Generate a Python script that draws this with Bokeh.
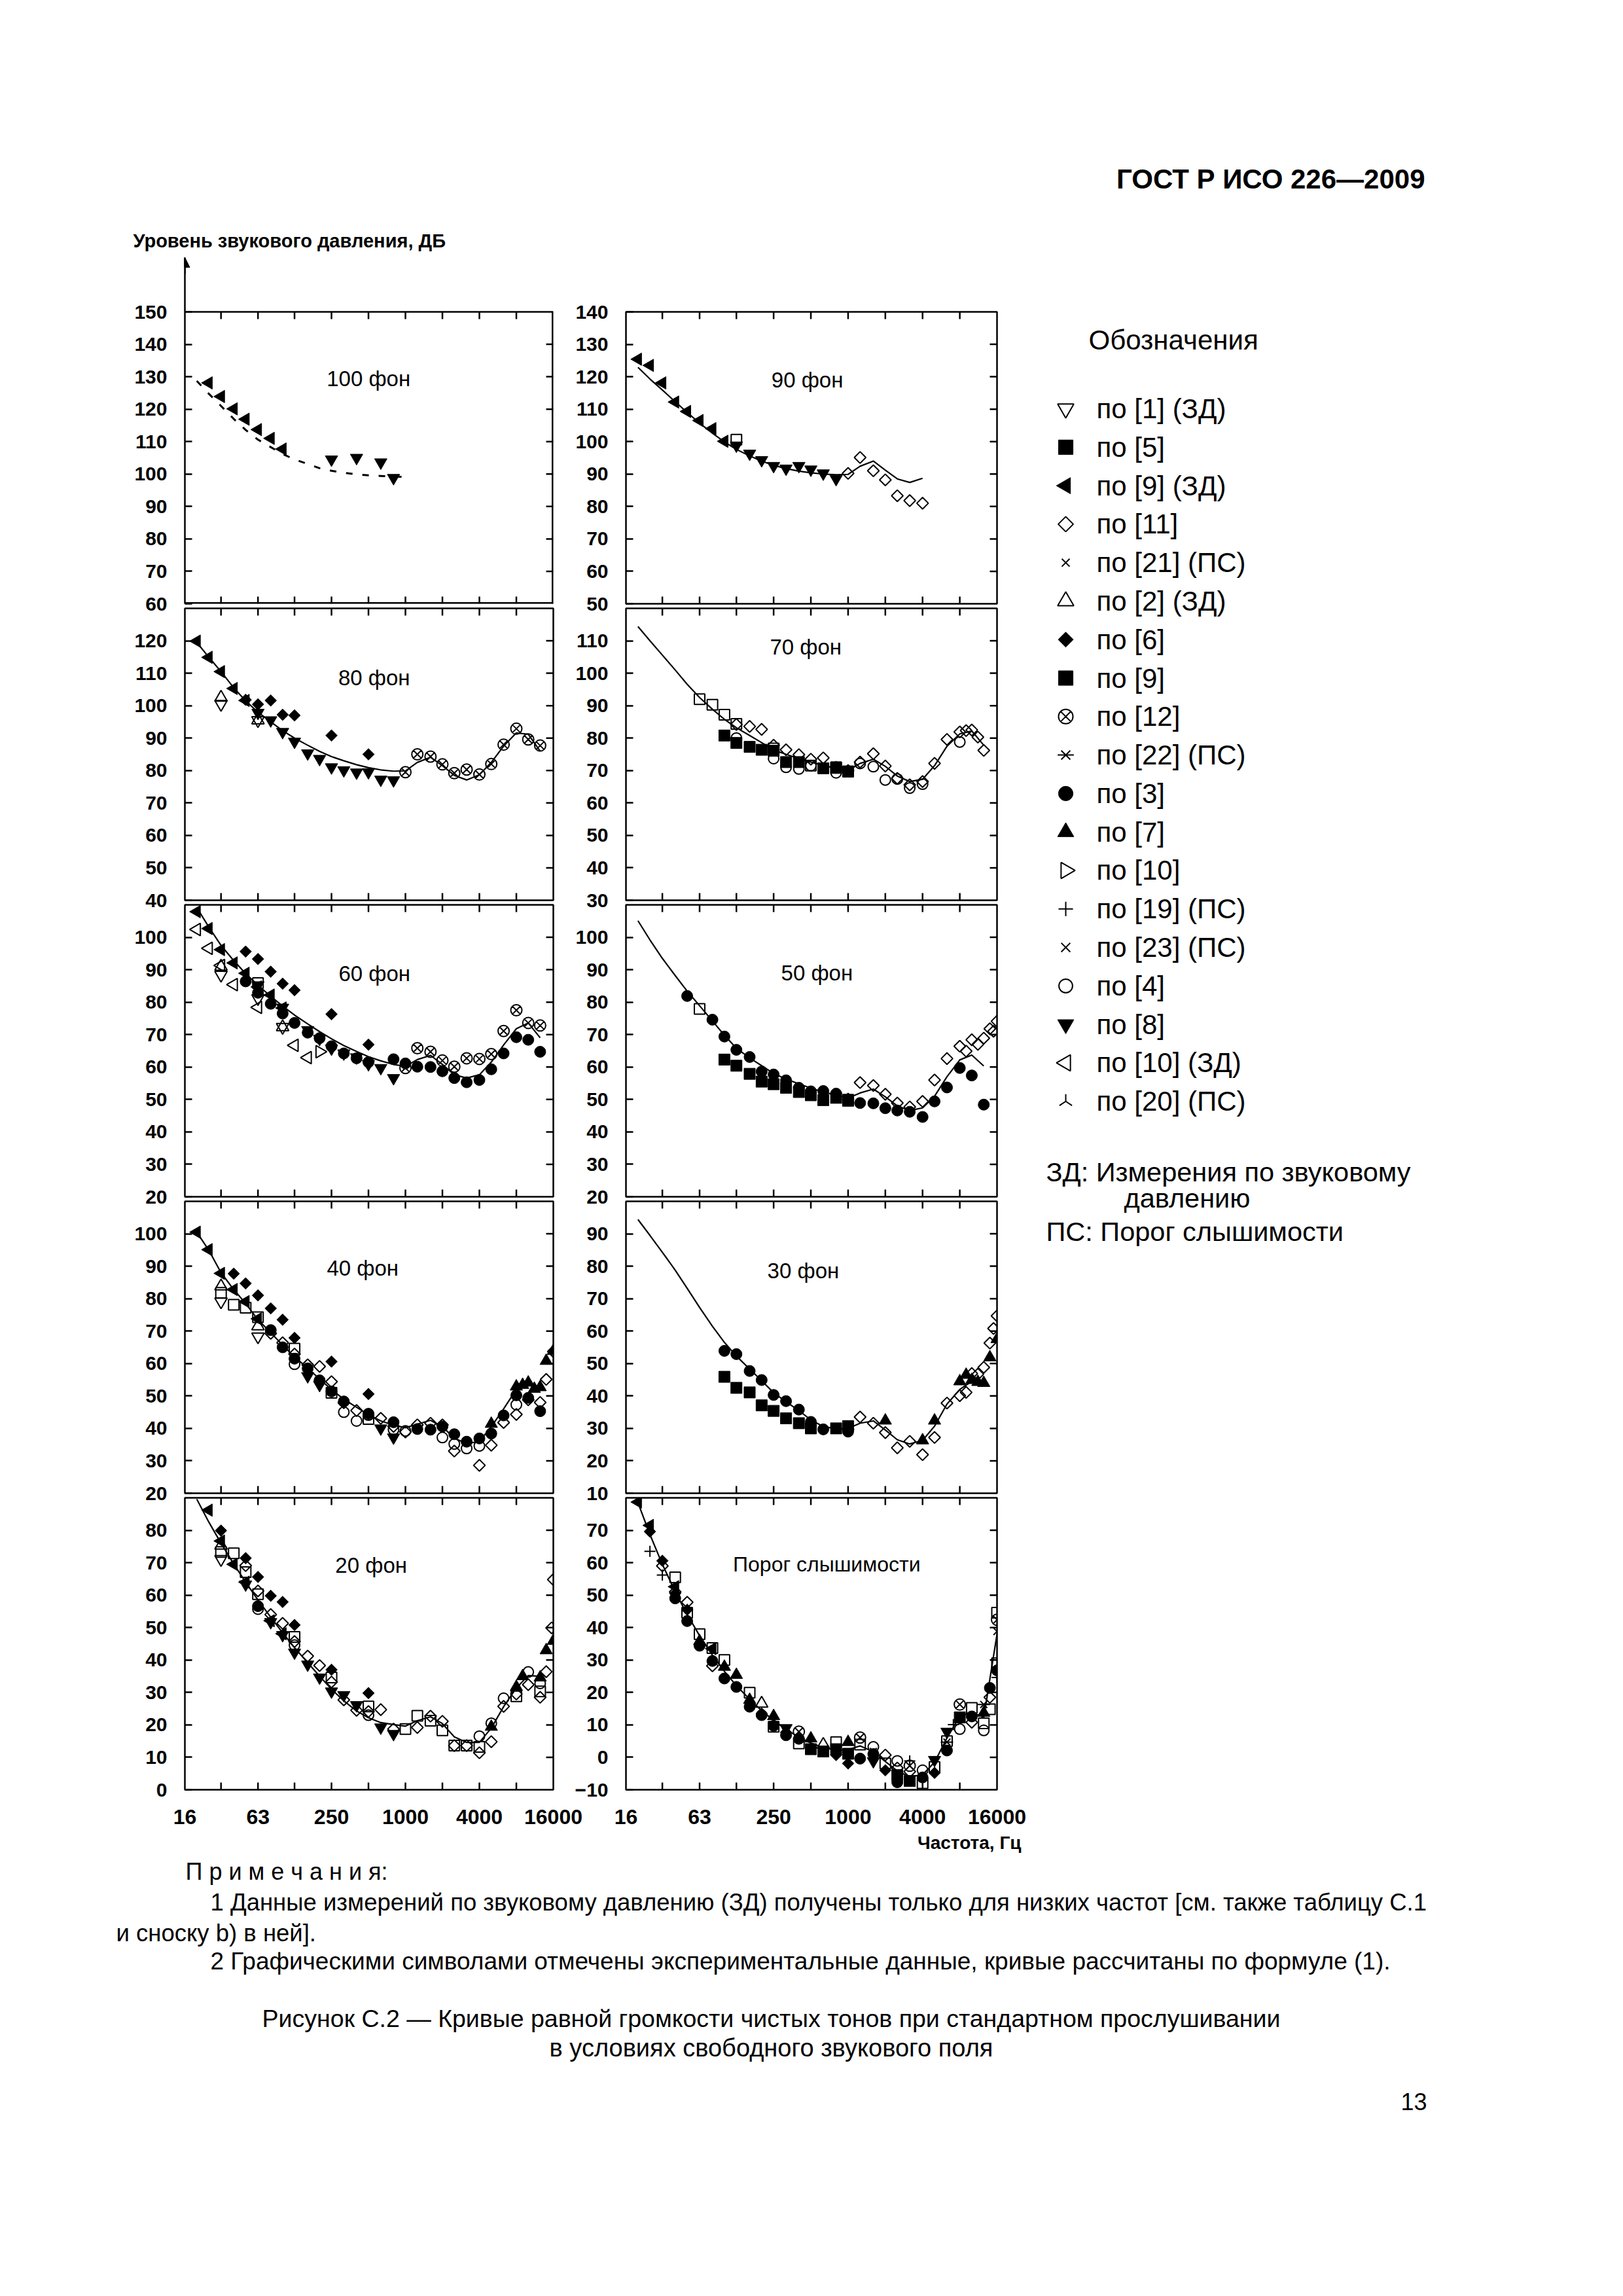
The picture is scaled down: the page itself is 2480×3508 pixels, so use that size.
import math
from bokeh.plotting import figure
from bokeh.layouts import row, column
from bokeh.models import Range1d, FixedTicker, Arrow, NormalHead, LogScale
from bokeh.core.properties import value
from bokeh.embed import file_html
from bokeh.resources import INLINE

FONT = "Liberation Sans"

# ---------------- data ----------------
FREQ = [20, 25, 31.5, 40, 50, 63, 80, 100, 125, 160, 200, 250, 315, 400, 500, 630,
        800, 1000, 1250, 1600, 2000, 2500, 3150, 4000, 5000, 6300, 8000, 10000, 12500, 16000]
X_TICKS = [31.5, 63, 125, 250, 500, 1000, 2000, 4000, 8000]
X_LABEL_F = [16, 63, 250, 1000, 4000, 16000]
X_LABELS = ["16", "63", "250", "1000", "4000", "16000"]

# calculated curves (values read at 1/3-octave frequencies)
C100 = [128.7, 124.8, 121.0, 117.0, 113.6, 110.6, 108.3, 106.2, 104.5, 103.1, 101.8, 101.0,
        100.4, 99.9, 99.6, 99.4, 99.2, 99.1]
C90 = [122.9, 119.3, 115.9, 112.3, 109.0, 105.7, 102.6, 99.9, 97.6, 95.6, 94.0, 92.7, 91.7,
       90.9, 90.4, 90.0, 89.8, 89.9, 92.4, 94.0, 91.2, 88.5, 87.4, 88.7]
C80 = [119.5, 115.0, 110.5, 105.5, 101.5, 98.0, 95.0, 92.3, 90.0, 87.8, 85.9, 84.3, 83.0,
       81.8, 80.9, 80.2, 79.8, 79.9, 82.5, 84.1, 81.5, 78.5, 77.1, 78.7, 82.5, 87.5, 91.6,
       91.2, 86.0]
C70 = [114.4, 110.0, 105.6, 101.0, 96.6, 92.5, 88.9, 85.8, 83.2, 80.8, 78.6, 76.3, 75.0,
       73.7, 72.6, 71.6, 70.7, 70.0, 72.2, 73.5, 71.3, 68.3, 66.6, 67.3, 71.5, 77.5, 81.3,
       82.2, 77.8]
C60 = [109.2, 103.2, 97.5, 92.8, 88.8, 85.2, 81.8, 78.8, 76.0, 73.3, 70.9, 68.7, 66.6, 64.8,
       63.2, 61.9, 60.8, 60.2, 62.3, 63.6, 60.8, 57.6, 56.6, 57.6, 61.5, 66.8, 71.8, 73.6, 69.0]
C50 = [105.1, 99.2, 93.5, 88.2, 83.4, 78.9, 74.2, 69.8, 65.8, 62.8, 60.4, 58.0, 56.3, 54.8,
       53.5, 52.3, 51.3, 50.4, 52.0, 53.2, 50.8, 48.0, 46.6, 47.4, 51.0, 57.0, 62.2, 63.7, 60.3]
C40 = [100.5, 95.0, 88.0, 82.8, 78.5, 73.5, 69.5, 65.7, 62.0, 58.6, 55.2, 52.0, 49.0, 46.5,
       44.2, 42.3, 41.0, 40.2, 41.3, 42.5, 40.5, 37.0, 35.3, 36.0, 40.5, 46.0, 52.0, 53.5, 52.2]
C30 = [94.4, 89.5, 84.3, 78.8, 73.2, 67.3, 61.5, 56.5, 52.3, 48.3, 44.7, 41.0, 38.2, 35.5,
       32.6, 30.6, 29.8, 30.0, 31.6, 32.3, 29.5, 26.5, 25.2, 26.3, 30.7, 37.5, 42.0, 44.5, 43.6]
C20 = [89.6, 82.6, 76.0, 69.6, 64.0, 58.5, 53.2, 48.4, 43.8, 39.2, 35.0, 31.0, 27.4, 24.3,
       22.2, 20.7, 20.1, 19.6, 21.3, 22.5, 20.4, 16.3, 14.6, 14.6, 19.0, 25.6, 31.4, 35.2, 35.0]
CT = [78.5, 68.7, 59.5, 51.1, 44.0, 37.5, 31.5, 26.5, 22.1, 17.9, 14.4, 11.4, 8.6, 6.2, 4.4,
      3.0, 2.2, 2.4, 3.5, 1.7, -1.3, -4.2, -6.0, -5.4, -1.5, 6.0, 12.6, 13.9, 12.3, 38.0]

# experimental points (frequency, level)
P100_TRI_LEFT_FILL = [(25, 128.1), (31.5, 123.9), (40, 120.1), (50, 116.9), (63, 113.7), (80, 111.0), (100, 107.7)]
P100_TRI_DOWN_FILL = [(250, 104.5), (400, 105.0), (630, 103.6), (800, 98.8)]

P90_TRI_LEFT_FILL = [(20, 125.4), (25, 123.5), (31.5, 118.1), (40, 112.2), (50, 109.3), (63, 106.5), (80, 104.0), (100, 100.1)]
P90_SQ_OPEN = [(125, 100.6)]
P90_TRI_DOWN_FILL = [(125, 98.8), (160, 96.3), (200, 94.3), (250, 92.5), (315, 91.7), (400, 92.5), (500, 91.4), (630, 90.2), (800, 88.5)]
P90_DIAM_OPEN = [(1000, 90.2), (1250, 95.1), (1600, 91.0), (2000, 88.2), (2500, 83.3), (3150, 81.8), (4000, 81.0)]

P80_TRI_LEFT_FILL = [(20, 119.9), (25, 114.9), (31.5, 110.5), (40, 105.3), (50, 101.6)]
P80_TRI_UP_OPEN = [(31.5, 102.5), (63, 95.5)]
P80_TRI_DOWN_OPEN = [(31.5, 100.5), (63, 95.5)]
P80_DIAM_FILL = [(50, 101.8), (63, 100.4), (80, 101.6), (100, 97.2), (125, 97.0), (250, 90.8), (500, 85.0)]
P80_TRI_DOWN_FILL = [(63, 97.8), (80, 95.5), (100, 91.9), (125, 88.9), (160, 85.3), (200, 83.6), (250, 81.0),
                     (315, 80.1), (400, 79.4), (500, 79.5), (630, 77.2), (800, 77.0)]
P80_CIRC_X = [(1000, 79.5), (1250, 85.0), (1600, 84.3), (2000, 81.9), (2500, 79.2), (3150, 80.3), (4000, 78.8),
              (5000, 82.0), (6300, 88.0), (8000, 92.9), (10000, 89.6), (12500, 87.7)]

P70_SQ_OPEN = [(63, 92.0), (80, 90.3), (100, 87.2), (125, 84.4), (250, 76.8), (500, 71.5), (800, 71.0), (1000, 69.7)]
P70_DIAM_OPEN = [(125, 84.2), (160, 83.6), (200, 82.7), (250, 77.8), (315, 76.4), (400, 74.9), (500, 73.5), (630, 73.9),
                 (800, 71.0), (1000, 70.0), (1250, 72.6), (1600, 75.2), (2000, 71.4), (2500, 67.6), (3150, 65.6),
                 (4000, 66.6), (5000, 72.2), (6300, 79.6), (8000, 81.9), (9000, 82.3), (10000, 82.5), (11200, 80.3),
                 (12500, 76.2)]
P70_SQ_FILL = [(100, 80.8), (125, 78.5), (160, 77.3), (200, 76.4), (250, 76.1), (315, 72.6), (400, 72.6), (630, 70.7),
               (800, 70.8), (1000, 69.7)]
P70_CIRC_OPEN = [(125, 80.0), (250, 73.7), (315, 71.0), (400, 70.5), (500, 71.5), (800, 69.3), (1250, 72.2), (1600, 71.2),
                 (2000, 67.1), (2500, 67.4), (3150, 64.6), (4000, 65.8), (8000, 78.8)]

P60_TRI_LEFT_FILL = [(20, 107.9), (25, 102.7), (31.5, 96.2), (40, 92.1), (50, 88.9), (63, 84.7), (80, 82.2), (100, 78.2)]
P60_TRI_LEFT_OPEN = [(20, 102.4), (25, 96.6), (31.5, 91.3), (40, 85.4), (63, 78.4), (125, 66.7), (160, 62.9)]
P60_TRI_RIGHT_OPEN = [(200, 64.7)]
P60_TRI_DOWN_OPEN = [(31.5, 88.4), (63, 81.2), (100, 72.3)]
P60_TRI_UP_OPEN = [(31.5, 91.0), (100, 72.3)]
P60_SQ_OPEN = [(63, 85.9)]
P60_DIAM_FILL = [(50, 95.6), (63, 93.3), (80, 89.4), (100, 85.7), (125, 83.7), (250, 76.3), (500, 66.9)]
P60_CIRC_FILL = [(50, 86.4), (63, 82.9), (80, 79.5), (100, 76.5), (125, 73.6), (160, 70.6), (200, 68.9), (250, 66.4),
                 (315, 64.2), (400, 62.7), (500, 61.5), (800, 62.4), (1000, 61.1), (1250, 60.1), (1600, 60.0),
                 (2000, 58.7), (2500, 56.6), (3150, 55.3), (4000, 56.0), (5000, 59.3), (6300, 64.2), (8000, 69.2),
                 (10000, 68.4), (12500, 64.7)]
P60_TRI_DOWN_FILL = [(63, 85.2), (100, 78.3), (160, 71.4), (200, 68.7), (250, 65.7), (315, 64.2), (400, 63.0),
                     (500, 60.9), (630, 59.7), (800, 56.6)]
P60_CIRC_X = [(1000, 59.7), (1250, 65.8), (1600, 64.7), (2000, 62.0), (2500, 60.1), (3150, 62.7), (4000, 62.5),
              (5000, 64.0), (6300, 71.1), (8000, 77.5), (10000, 73.6), (12500, 72.8)]

P50_CIRC_FILL = [(50, 81.9), (80, 74.6), (100, 69.4), (125, 65.3), (160, 63.1), (200, 58.6), (250, 57.7), (315, 55.9),
                 (400, 53.6), (500, 52.5), (630, 52.6), (800, 51.8), (1250, 48.9), (1600, 48.8), (2000, 47.3),
                 (2500, 46.6), (3150, 46.2), (4000, 44.6), (5000, 49.4), (6300, 53.7), (8000, 59.7), (10000, 57.4),
                 (12500, 48.4)]
P50_SQ_OPEN = [(63, 77.9), (1000, 49.9)]
P50_SQ_FILL = [(100, 62.3), (125, 60.4), (160, 57.9), (200, 55.5), (250, 54.7), (315, 53.6), (400, 52.3), (500, 51.3),
               (630, 49.8), (800, 50.5), (1000, 49.6)]
P50_DIAM_OPEN = [(1000, 50.1), (1250, 55.2), (1600, 54.3), (2000, 51.6), (2500, 48.9), (3150, 47.7), (4000, 49.4),
                 (5000, 56.0), (6300, 62.6), (8000, 66.4), (9000, 64.9), (10000, 68.4), (11200, 67.0), (12500, 68.9),
                 (14000, 71.8), (15000, 71.0), (16000, 74.1)]

P40_TRI_LEFT_FILL = [(20, 100.5), (25, 95.1), (31.5, 87.8), (40, 82.8), (50, 79.1), (63, 73.8)]
P40_TRI_UP_OPEN = [(31.5, 83.8), (63, 71.5)]
P40_TRI_DOWN_OPEN = [(31.5, 79.1), (63, 68.3)]
P40_SQ_OPEN = [(31.5, 81.8), (40, 78.1), (50, 77.2), (63, 74.3), (125, 64.6), (250, 51.0), (500, 42.9)]
P40_DIAM_FILL = [(40, 87.7), (50, 84.7), (63, 81.0), (80, 77.0), (100, 73.5), (125, 67.9), (250, 60.6), (500, 50.6)]
P40_CIRC_FILL = [(80, 70.3), (100, 65.0), (125, 61.5), (160, 58.5), (200, 54.8), (250, 51.4), (315, 48.3), (500, 44.5),
                 (800, 41.9), (1250, 39.8), (1600, 39.6), (2000, 40.6), (2500, 38.2), (3150, 35.9), (4000, 36.9),
                 (5000, 38.4), (6300, 44.0), (8000, 50.2), (10000, 49.4), (12500, 45.3)]
P40_TRI_DOWN_FILL = [(160, 56.1), (200, 53.4), (630, 40.0), (800, 37.2)]
P40_DIAM_OPEN = [(80, 69.3), (100, 66.4), (125, 62.9), (160, 59.6), (200, 59.1), (250, 54.4), (315, 47.9), (400, 45.5),
                 (630, 43.1), (800, 40.6), (1000, 38.9), (1250, 41.1), (1600, 41.6), (2000, 41.1), (2500, 33.0),
                 (4000, 28.6), (5000, 34.8), (6300, 41.8), (8000, 44.3), (10000, 48.8), (12500, 48.0), (14000, 55.1),
                 (16000, 63.7)]
P40_CIRC_OPEN = [(125, 59.8), (315, 45.0), (400, 42.3), (500, 44.1), (800, 39.6), (1000, 39.2), (2000, 37.2),
                 (2500, 35.2), (3150, 33.8), (4000, 34.6), (8000, 47.3)]
P40_TRI_UP_FILL = [(5000, 41.4), (8000, 52.9), (9000, 53.4), (10000, 54.1), (11200, 52.2), (12500, 52.7),
                   (14000, 60.8), (16000, 63.9)]

P30_CIRC_FILL = [(100, 53.9), (125, 52.9), (160, 47.7), (200, 44.9), (250, 40.3), (315, 38.4), (400, 35.8), (500, 32.0),
                 (630, 29.7), (1000, 29.0)]
P30_SQ_FILL = [(100, 45.9), (125, 42.5), (160, 41.1), (200, 37.1), (250, 35.4), (315, 33.1), (400, 31.6), (500, 30.0),
               (800, 30.0), (1000, 30.7)]
P30_DIAM_OPEN = [(1000, 29.7), (1250, 33.5), (1600, 31.6), (2000, 28.7), (2500, 24.0), (3150, 26.0), (4000, 21.9),
                 (5000, 27.2), (6300, 37.8), (8000, 40.1), (9000, 41.1), (10000, 46.9), (11200, 46.7), (12500, 48.8),
                 (14000, 56.3), (15000, 60.8), (16000, 64.7)]
P30_TRI_UP_FILL = [(2000, 32.4), (4000, 26.3), (5000, 32.4), (8000, 44.5), (9000, 46.5), (10000, 44.9), (11200, 44.3),
                   (12500, 44.0), (14000, 51.9), (16000, 57.5)]

P20_TRI_LEFT_FILL = [(25, 86.2), (31.5, 76.7), (40, 69.5), (50, 64.0), (80, 52.1), (100, 48.1)]
P20_DIAM_FILL = [(31.5, 79.9), (50, 71.4), (63, 65.6), (80, 59.8), (100, 57.9), (125, 50.8), (250, 37.0), (500, 29.8)]
P20_TRI_DOWN_FILL = [(50, 63.3), (80, 51.7), (100, 47.7), (125, 42.3), (160, 38.6), (200, 34.6), (250, 30.3),
                     (315, 29.2), (400, 26.1), (630, 19.2), (800, 17.2)]
P20_SQ_OPEN = [(31.5, 73.3), (40, 72.9), (50, 67.1), (63, 60.3), (125, 47.1), (250, 34.6), (500, 25.7), (1000, 18.7),
               (1250, 22.8), (1600, 21.3), (2000, 18.3), (2500, 13.6), (3150, 13.6), (4000, 13.2), (8000, 28.8),
               (12500, 30.3)]
P20_TRI_UP_OPEN = [(31.5, 75.3)]
P20_TRI_DOWN_OPEN = [(31.5, 71.1)]
P20_CIRC_OPEN = [(63, 55.7), (125, 44.6), (500, 23.0), (4000, 16.5), (5000, 20.5), (6300, 28.2), (10000, 36.3),
                 (12500, 32.8)]
P20_DIAM_OPEN = [(50, 69.1), (63, 61.3), (80, 54.0), (100, 51.3), (125, 45.7), (160, 41.2), (200, 38.3), (250, 33.2),
                 (315, 27.7), (400, 24.5), (500, 24.1), (630, 24.7), (800, 18.7), (1250, 19.2), (1600, 22.7),
                 (2000, 21.1), (2500, 13.6), (3150, 13.6), (4000, 11.4), (5000, 14.8), (6300, 25.7), (8000, 29.5),
                 (10000, 32.4), (12500, 28.5), (14000, 36.4), (15500, 49.9), (16000, 64.8)]
P20_TRI_UP_FILL = [(5000, 19.4), (8000, 31.7), (9000, 35.0), (12500, 34.6), (14000, 43.0), (16000, 45.9)]
P20_CIRC_FILL = [(63, 56.6)]

PT_TRI_LEFT_FILL = [(20, 78.7), (25, 71.5), (40, 52.6), (80, 33.5)]
PT_DIAM_FILL = [(25, 69.6), (31.5, 60.6), (40, 50.5), (50, 45.5), (200, 13.5), (315, 7.7), (800, 0.7), (1000, -1.9),
                (2000, -4.0), (5000, -4.8)]
PT_CROSS = [(25, 63.5), (31.5, 56.2), (3150, -1.1), (7100, 10.1), (16000, 24.6)]
PT_SQ_OPEN = [(40, 55.5), (50, 44.6), (63, 38.0), (80, 33.7), (100, 30.0), (160, 19.9), (250, 9.4), (400, 4.3),
              (800, 4.7), (1250, 3.9), (2000, -1.9), (4000, -8.0), (5000, -3.0), (6300, 5.0), (10000, 15.2),
              (12500, 10.5), (14000, 14.8), (16000, 44.6), (16000, 29.0)]
PT_CIRC_FILL = [(40, 49.0), (50, 42.0), (63, 34.4), (80, 29.7), (100, 24.3), (125, 21.7), (160, 15.6), (200, 13.0),
                (250, 9.7), (315, 6.8), (400, 5.7), (1250, -0.4), (1600, 1.0), (2500, -7.7), (4000, -6.2), (6300, 2.1),
                (10000, 12.6), (14000, 21.4), (16000, 26.8)]
PT_DIAM_OPEN = [(31.5, 59.0), (40, 51.0), (50, 47.8), (80, 28.2), (2000, 0.7), (2500, -3.3), (3150, -4.4),
                (10000, 10.8), (14000, 18.5)]
PT_TRI_UP_FILL = [(63, 35.8), (100, 27.9), (125, 25.4), (160, 17.7), (250, 12.7), (500, 5.8), (1000, 4.7), (12500, 13.7)]
PT_TRI_UP_OPEN = [(200, 16.6), (630, 3.9)]
PT_CIRC_X = [(400, 7.9), (1250, 6.1), (3150, -2.6), (8000, 16.3), (16000, 42.4)]
PT_SQ_FILL = [(500, 2.5), (630, 1.8), (800, 2.5), (1000, 1.1), (2500, -5.5), (3150, -7.3), (8000, 12.3)]
PT_TRI_DOWN_FILL = [(315, 9.0), (1600, -1.2), (5000, -0.8), (6300, 7.9)]
PT_CIRC_OPEN = [(1600, 3.2), (2500, -1.1), (4000, -4.0), (8000, 8.7), (12500, 8.3)]
PT_X23 = [(1600, 1.8), (16000, 38.8)]
PT_AST = [(6300, 4.7), (12500, 16.3)]

PANEL_NAMES = ["100 фон", "90 фон", "80 фон", "70 фон", "60 фон", "50 фон", "40 фон", "30 фон",
               "20 фон", "Порог слышимости"]

LEG_LABELS = ["по [1] (ЗД)", "по [5]", "по [9] (ЗД)", "по [11]", "по [21] (ПС)", "по [2] (ЗД)", "по [6]",
              "по [9]", "по [12]", "по [22] (ПС)", "по [3]", "по [7]", "по [10]", "по [19] (ПС)",
              "по [23] (ПС)", "по [4]", "по [8]", "по [10] (ЗД)", "по [20] (ПС)"]
LEG_KEYS = ["tri_down_open", "sq_fill", "tri_left_fill", "diam_open", "x21", "tri_up_open", "diam_fill",
            "sq_fill", "circ_x", "ast", "circ_fill", "tri_up_fill", "tri_right_open", "cross", "x23",
            "circ_open", "tri_down_fill", "tri_left_open", "y20"]

# ---------------- styles ----------------
PI = math.pi
STYLE = {
    "tri_down_open": [("inverted_triangle", 0, False, 19, 2)],
    "sq_open": [("square", 0, False, 16, 2)],
    "tri_left_fill": [("triangle", PI / 2, True, 19, 1)],
    "diam_open": [("square", PI / 4, False, 12.5, 2)],
    "x21": [("x", 0, False, 13, 2)],
    "tri_up_open": [("triangle", 0, False, 19, 2)],
    "diam_fill": [("square", PI / 4, True, 12.5, 1)],
    "sq_fill": [("square", 0, True, 17, 1)],
    "circ_x": [("circle_x", 0, False, 17, 2)],
    "ast": [("x", 0, False, 15, 2), ("dash", 0, False, 19, 2)],
    "circ_fill": [("circle", 0, True, 17, 1)],
    "tri_up_fill": [("triangle", 0, True, 19, 1)],
    "tri_right_open": [("triangle", -PI / 2, False, 19, 2)],
    "cross": [("cross", 0, False, 17, 2)],
    "x23": [("x", 0, False, 15, 2)],
    "circ_open": [("circle", 0, False, 16, 2)],
    "tri_down_fill": [("inverted_triangle", 0, True, 19, 1)],
    "tri_left_open": [("triangle", PI / 2, False, 19, 2)],
    "y20": [("y", PI, False, 17, 2)],
}

PANELS = [
    dict(name=PANEL_NAMES[0], yr=(60, 150), curve=C100, dash=True, lab=(501, 129.4),
         series=[("tri_left_fill", P100_TRI_LEFT_FILL), ("tri_down_fill", P100_TRI_DOWN_FILL)]),
    dict(name=PANEL_NAMES[1], yr=(50, 140), curve=C90, lab=(468, 119.0),
         series=[("tri_left_fill", P90_TRI_LEFT_FILL), ("sq_open", P90_SQ_OPEN),
                 ("tri_down_fill", P90_TRI_DOWN_FILL), ("diam_open", P90_DIAM_OPEN)]),
    dict(name=PANEL_NAMES[2], yr=(40, 130), curve=C80, lab=(556, 108.7),
         series=[("tri_left_fill", P80_TRI_LEFT_FILL), ("tri_up_open", P80_TRI_UP_OPEN),
                 ("tri_down_open", P80_TRI_DOWN_OPEN), ("diam_fill", P80_DIAM_FILL),
                 ("tri_down_fill", P80_TRI_DOWN_FILL), ("circ_x", P80_CIRC_X)]),
    dict(name=PANEL_NAMES[3], yr=(30, 120), curve=C70, lab=(455, 108.0),
         series=[("sq_open", P70_SQ_OPEN), ("diam_open", P70_DIAM_OPEN), ("sq_fill", P70_SQ_FILL),
                 ("circ_open", P70_CIRC_OPEN)]),
    dict(name=PANEL_NAMES[4], yr=(20, 110), curve=C60, lab=(560, 88.8),
         series=[("tri_left_fill", P60_TRI_LEFT_FILL), ("tri_left_open", P60_TRI_LEFT_OPEN),
                 ("tri_right_open", P60_TRI_RIGHT_OPEN), ("tri_down_open", P60_TRI_DOWN_OPEN),
                 ("tri_up_open", P60_TRI_UP_OPEN), ("sq_open", P60_SQ_OPEN), ("diam_fill", P60_DIAM_FILL),
                 ("circ_fill", P60_CIRC_FILL), ("tri_down_fill", P60_TRI_DOWN_FILL), ("circ_x", P60_CIRC_X)]),
    dict(name=PANEL_NAMES[5], yr=(20, 110), curve=C50, lab=(560, 89.0),
         series=[("circ_fill", P50_CIRC_FILL), ("sq_open", P50_SQ_OPEN), ("sq_fill", P50_SQ_FILL),
                 ("diam_open", P50_DIAM_OPEN)]),
    dict(name=PANEL_NAMES[6], yr=(20, 110), curve=C40, lab=(449, 89.4),
         series=[("tri_left_fill", P40_TRI_LEFT_FILL), ("tri_up_open", P40_TRI_UP_OPEN),
                 ("tri_down_open", P40_TRI_DOWN_OPEN), ("sq_open", P40_SQ_OPEN), ("diam_fill", P40_DIAM_FILL),
                 ("circ_fill", P40_CIRC_FILL), ("tri_down_fill", P40_TRI_DOWN_FILL),
                 ("diam_open", P40_DIAM_OPEN), ("circ_open", P40_CIRC_OPEN), ("tri_up_fill", P40_TRI_UP_FILL)]),
    dict(name=PANEL_NAMES[7], yr=(10, 100), curve=C30, lab=(434, 78.7),
         series=[("circ_fill", P30_CIRC_FILL), ("sq_fill", P30_SQ_FILL), ("diam_open", P30_DIAM_OPEN),
                 ("tri_up_fill", P30_TRI_UP_FILL)]),
    dict(name=PANEL_NAMES[8], yr=(0, 90), curve=C20, lab=(526, 69.3),
         series=[("tri_left_fill", P20_TRI_LEFT_FILL), ("diam_fill", P20_DIAM_FILL),
                 ("tri_down_fill", P20_TRI_DOWN_FILL), ("sq_open", P20_SQ_OPEN), ("tri_up_open", P20_TRI_UP_OPEN),
                 ("tri_down_open", P20_TRI_DOWN_OPEN), ("circ_open", P20_CIRC_OPEN), ("diam_open", P20_DIAM_OPEN),
                 ("tri_up_fill", P20_TRI_UP_FILL), ("circ_fill", P20_CIRC_FILL)]),
    dict(name=PANEL_NAMES[9], yr=(-10, 80), curve=CT, lab=(672, 59.6), small=True,
         series=[("tri_left_fill", PT_TRI_LEFT_FILL), ("diam_fill", PT_DIAM_FILL), ("cross", PT_CROSS),
                 ("sq_open", PT_SQ_OPEN), ("circ_fill", PT_CIRC_FILL), ("diam_open", PT_DIAM_OPEN),
                 ("tri_up_fill", PT_TRI_UP_FILL), ("tri_up_open", PT_TRI_UP_OPEN), ("circ_x", PT_CIRC_X),
                 ("sq_fill", PT_SQ_FILL), ("tri_down_fill", PT_TRI_DOWN_FILL), ("circ_open", PT_CIRC_OPEN),
                 ("x23", PT_X23), ("ast", PT_AST)]),
]

# ---------------- layout constants (page pixels) ----------------
COLS = [dict(fx=290, fw=563, w=868), dict(fx=964, fw=567, w=684)]   # frame x, frame width, figure width
COL_X0 = [8, 876]
FH = 446          # frame height
GAP = 7           # gap between stacked frames
TICK = 11         # inward tick length
TOP = 398         # page y where the panel block starts
ARROW_TIP = 401   # page y of the axis arrow tip
HEAD_B = ARROW_TIP - TOP
ARROW_PX = 484 - ARROW_TIP
BORD = 20         # top / bottom canvas border of stacked panels
OVER = 2 * BORD - GAP


def draw_marker(p, xs, ys, key, scale=1.0):
    for mk, ang, filled, sz, lw in STYLE[key]:
        p.scatter(xs, ys, marker=mk, angle=ang, size=sz * scale, line_color="black",
                  line_width=lw, fill_color="black" if filled else None)


def panel(spec, col, r):
    ymin, ymax = spec["yr"]
    c = COLS[col]
    fw = c["fw"]
    arrow = (r == 0 and col == 0)
    if r == 0:
        tb = HEAD_B if arrow else HEAD_B + ARROW_PX
    else:
        tb = BORD
    bb = BORD
    fh = FH + (ARROW_PX if arrow else 0)
    ytop = ymax + ARROW_PX * (ymax - ymin) / FH if arrow else ymax
    mbl = c["fx"] - COL_X0[col]
    mbr = c["w"] - mbl - fw
    kw = dict(width=c["w"], height=tb + fh + bb, x_axis_type="log", x_axis_location=None,
              x_range=Range1d(16, 16000), y_range=Range1d(ymin, ytop),
              output_backend="svg", toolbar_location=None, title=None,
              min_border_left=mbl, min_border_right=mbr, min_border_top=tb, min_border_bottom=bb)
    if r > 0:
        kw["margin"] = (-OVER, 0, 0, 0)
    p = figure(**kw)
    p.ygrid.visible = False
    p.xgrid.visible = False
    p.border_fill_color = None
    p.background_fill_color = None
    if arrow:
        p.outline_line_color = None
    else:
        p.outline_line_color = "black"
        p.outline_line_width = 2.5
        p.outline_line_alpha = 1.0

    yt = list(range(ymin, ymax + 1, 10))
    ax = p.yaxis[0]
    ax.ticker = FixedTicker(ticks=yt if r == 0 else yt[:-1])
    ax.major_tick_in = TICK
    ax.major_tick_out = 0
    ax.major_tick_line_width = 2.5
    ax.major_tick_line_color = "black"
    ax.minor_tick_line_color = None
    ax.major_label_text_font = FONT
    ax.major_label_text_font_size = "30px"
    ax.major_label_text_font_style = "bold"
    ax.major_label_text_color = "black"
    ax.major_label_standoff = 27
    if arrow:
        ax.axis_line_color = "black"
        ax.axis_line_width = 2.5
        ax.bounds = (ymin, ytop)
    else:
        ax.axis_line_color = None

    # inward ticks on the top, bottom and right sides of the box
    dy = TICK * (ymax - ymin) / FH
    xr = 16000 / 10 ** (3.0 * TICK / fw)
    inner = yt[1:-1]
    n = len(X_TICKS)
    p.segment(x0=X_TICKS, x1=X_TICKS, y0=[ymax] * n, y1=[ymax - dy] * n, line_color="black", line_width=2.5)
    p.segment(x0=X_TICKS, x1=X_TICKS, y0=[ymin] * n, y1=[ymin + dy] * n, line_color="black", line_width=2.5)
    p.segment(x0=[16000] * len(inner), x1=[xr] * len(inner), y0=inner, y1=inner, line_color="black", line_width=2.5)
    if arrow:
        p.segment(x0=[16, 16000, 16], x1=[16000, 16000, 16000], y0=[ymax, ymin, ymin], y1=[ymax, ymax, ymin],
                  line_color="black", line_width=[2.5, 5, 5])
        p.add_layout(Arrow(end=NormalHead(size=15, fill_color="black", line_color="black", line_width=1),
                           x_start=16, y_start=ytop - (ytop - ymax) * 0.3, x_end=16, y_end=ytop,
                           line_width=2.5, line_color="black"))

    curve = spec["curve"]
    if spec.get("dash"):
        p.line(FREQ[:len(curve)], curve, line_color="black", line_width=3, line_dash="10 15")
    else:
        p.line(FREQ[:len(curve)], curve, line_color="black", line_width=2.2)
    for key, pts in spec["series"]:
        draw_marker(p, [a for a, b in pts], [b for a, b in pts], key)

    lx, ly = spec["lab"]
    p.text(x=[lx], y=[ly], text=[spec["name"]], text_font=value(FONT),
           text_font_size="32px" if spec.get("small") else "33px",
           text_align="center", text_baseline="middle", text_color="black")
    return p


def text_fig(x0, y0, w, h):
    f = figure(width=w, height=h, x_range=Range1d(x0, x0 + w), y_range=Range1d(y0 + h, y0),
               output_backend="svg", toolbar_location=None, title=None, min_border=0,
               min_border_left=0, min_border_right=0, min_border_top=0, min_border_bottom=0,
               x_axis_location=None, y_axis_location=None)
    f.outline_line_color = None
    f.xgrid.visible = False
    f.ygrid.visible = False
    return f


def put(f, x, y, s, size, align="left", bold=False):
    f.text(x=[x], y=[y], text=[s], text_font=value(FONT), text_font_size=f"{size}px",
           text_align=align, text_baseline="middle", text_color="black",
           text_font_style="bold" if bold else "normal")


ROW1_H = HEAD_B + ARROW_PX + FH + BORD
COL_H = ROW1_H + 4 * (2 * BORD + FH - OVER)
BOTTOM = TOP + COL_H                   # page y where the panel block ends

# header
header = text_fig(8, 8, 2464, TOP - 8)
put(header, 2185, 281, "ГОСТ Р ИСО 226—2009", 42, align="right", bold=True)
put(header, 211, 375, "Уровень звукового давления, ДБ", 29, bold=True)

# panels
left_col = column(*[panel(PANELS[2 * r], 0, r) for r in range(5)])
right_col = column(*[panel(PANELS[2 * r + 1], 1, r) for r in range(5)])

# legend
legend = text_fig(1560, TOP, 912, COL_H)
put(legend, 1671, 527, "Обозначения", 42)
for i, (key, lab) in enumerate(zip(LEG_KEYS, LEG_LABELS)):
    y = 632 + 58.79 * i
    draw_marker(legend, [1636], [y], key, scale=1.3)
    put(legend, 1683, y, lab, 42)
put(legend, 1606, 1798, "ЗД: Измерения по звуковому", 41.5)
put(legend, 1725, 1838, "давлению", 41.5)
put(legend, 1606, 1889, "ПС: Порог слышимости", 41.5)

# x tick labels strip (mapped through the panels' log scales)
SH = 84
strip = text_fig(8, BOTTOM, 2464, SH)


def log_range(px16, fw):
    per_px = 3.0 / fw
    return Range1d(16 * 10 ** (-(px16 - 8) * per_px), 16 * 10 ** ((2472 - px16) * per_px))


strip.extra_x_ranges = {"L": log_range(COLS[0]["fx"], COLS[0]["fw"]), "R": log_range(COLS[1]["fx"], COLS[1]["fw"])}
strip.extra_x_scales = {"L": LogScale(), "R": LogScale()}
for rn in ("L", "R"):
    strip.text(x=X_LABEL_F, y=[BOTTOM + 21] * len(X_LABEL_F), text=X_LABELS, x_range_name=rn,
               text_font=value(FONT), text_font_size="32px", text_font_style="bold",
               text_align="center", text_baseline="middle", text_color="black")
put(strip, 1568, BOTTOM + 61, "Частота, Гц", 28, align="right", bold=True)

# notes
NT = BOTTOM + SH
notes = text_fig(8, NT, 2464, 3300 - NT)
put(notes, 291, 2867, "П р и м е ч а н и я:", 36)
put(notes, 329, 2914, "1  Данные измерений по звуковому давлению (ЗД) получены только для низких частот [см. также таблицу С.1", 36.5)
put(notes, 185, 2961, "и сноску b) в ней].", 36.5)
put(notes, 329, 3004, "2  Графическими символами отмечены экспериментальные данные, кривые рассчитаны по формуле (1).", 37)
put(notes, 1186, 3091, "Рисунок С.2 — Кривые равной громкости чистых тонов при стандартном прослушивании", 37.5, align="center")
put(notes, 1186, 3136, "в условиях свободного звукового поля", 38, align="center")
put(notes, 2188, 3218, "13", 36, align="right")

page = column(header, row(left_col, right_col, legend), strip, notes)
open("out.html", "w").write(file_html(page, INLINE, title="ГОСТ Р ИСО 226—2009"))
